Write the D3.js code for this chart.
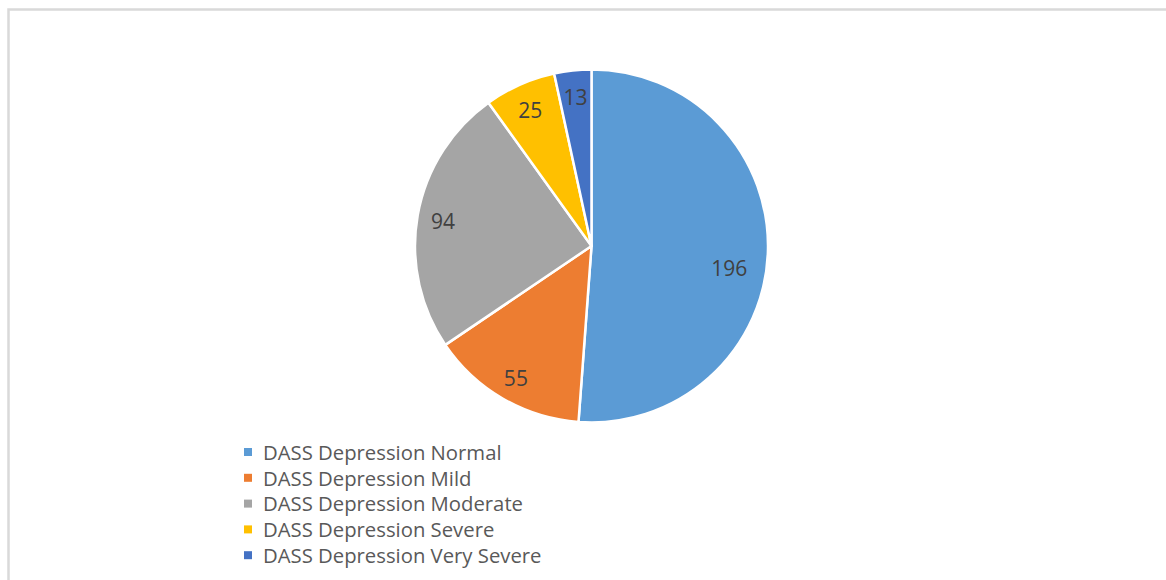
<!DOCTYPE html>
<html>
<head>
<meta charset="utf-8">
<script src="https://cdn.jsdelivr.net/npm/d3@7"></script>
<style>
  html, body { margin: 0; padding: 0; background: #fff; }
  svg { display: block; font-family: "Open Sans", "Noto Sans", sans-serif; }
</style>
</head>
<body>
<svg id="chart" width="1166" height="580"></svg>
<script>
const W = 1166;
const H = 580;

// data
const categories = [
  "DASS Depression Normal",
  "DASS Depression Mild",
  "DASS Depression Moderate",
  "DASS Depression Severe",
  "DASS Depression Very Severe",
];
const counts = [196, 55, 94, 25, 13];
const colors = ["#5B9BD5", "#ED7D31", "#A5A5A5", "#FFC000", "#4472C4"];

// excel "best fit" put the big label a bit further in
const labelNudge = { "DASS Depression Normal": [-13, 15] };

const cx = 591.5, cy = 246, R = 176.5;

const svg = d3.select("#chart");

// chart area frame (only top + left edge visible)
svg.append("path")
  .attr("d", `M8.5,${H} V9.5 H${W}`)
  .attr("fill", "none")
  .attr("stroke", "#d9d9d9")
  .attr("stroke-width", 2.5);

const rows = categories.map((c, i) => ({ cat: c, value: counts[i] }));
const color = d3.scaleOrdinal().domain(categories).range(colors);

const pie = d3.pie().value((d) => d.value).sort(null);
const arc = d3.arc().innerRadius(0).outerRadius(R);
const labelArc = d3.arc().innerRadius(R * 0.855).outerRadius(R * 0.855);

const g = svg.append("g").attr("transform", `translate(${cx},${cy})`);

g.selectAll("path")
  .data(pie(rows))
  .join("path")
  .attr("d", arc)
  .attr("fill", (d) => color(d.data.cat))
  .attr("stroke", "#fff")
  .attr("stroke-width", 2.5)
  .attr("stroke-linejoin", "round");

g.selectAll("text")
  .data(pie(rows))
  .join("text")
  .attr("transform", (d) => {
    const [x, y] = labelArc.centroid(d);
    const n = labelNudge[d.data.cat] || [0, 0];
    return `translate(${x + n[0]},${y + n[1]})`;
  })
  .attr("text-anchor", "middle")
  .attr("dy", "0.45em")
  .attr("font-size", 21)
  .attr("fill", "#404040")
  .text((d) => d.data.value);

// legend
const legend = svg.append("g").attr("transform", "translate(244,452)");
const item = legend.selectAll("g")
  .data(categories)
  .join("g")
  .attr("transform", (d, i) => `translate(0,${i * 25.8})`);

item.append("rect")
  .attr("x", 0)
  .attr("y", -4)
  .attr("width", 8)
  .attr("height", 8)
  .attr("fill", (d) => color(d));

item.append("text")
  .attr("x", 19)
  .attr("dy", "0.38em")
  .attr("font-size", 20.3)
  .attr("fill", "#595959")
  .text((d) => d);
</script>
</body>
</html>
